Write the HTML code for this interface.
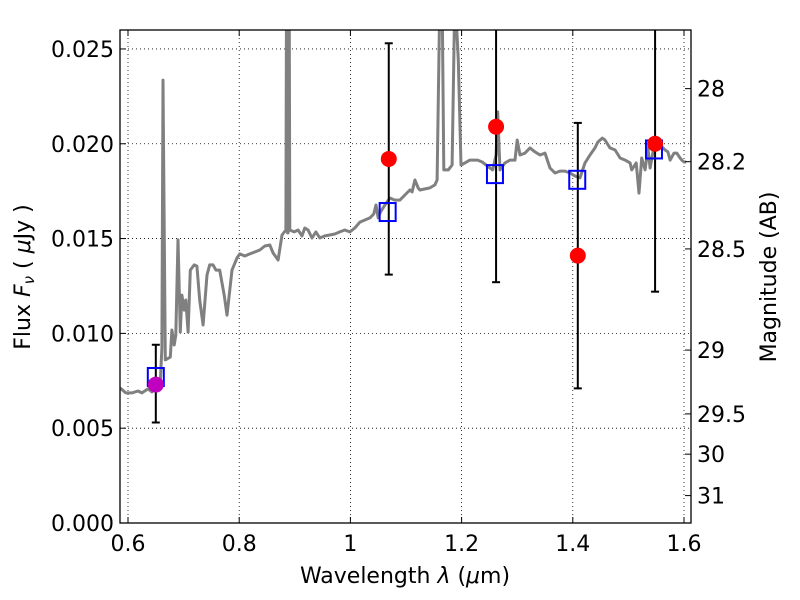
<!DOCTYPE html>
<html><head><meta charset="utf-8"><style>
html,body{margin:0;padding:0;background:#fff;}
svg{display:block;font-family:"DejaVu Sans","Liberation Sans",sans-serif;}
</style></head><body>
<svg id="chart" width="800" height="600" xmlns="http://www.w3.org/2000/svg">
<defs><clipPath id="clip"><rect x="120" y="30" width="571" height="493"/></clipPath></defs>
<rect x="0" y="0" width="800" height="600" fill="#fff"/>
<g id="grid"></g>
<g id="series" clip-path="url(#clip)"></g>
<rect x="120" y="30" width="571" height="493" fill="none" stroke="#000" stroke-width="1.3"/>
<g id="axes"></g>
<text x="405" y="583" font-size="22" text-anchor="middle">Wavelength  <tspan font-style="italic">λ</tspan> (<tspan font-style="italic">μ</tspan>m)</text>
<text transform="translate(30,277) rotate(-90)" font-size="22" text-anchor="middle">Flux  <tspan font-style="italic">F</tspan><tspan font-style="italic" font-size="15" dy="4">ν</tspan><tspan dy="-4">  ( </tspan><tspan font-style="italic">μ</tspan>Jy )</text>
<text transform="translate(776,277) rotate(-90)" font-size="22" text-anchor="middle">Magnitude (AB)</text>
</svg>
<script>
const xTicks=[0.6,0.8,1.0,1.2,1.4,1.6];
const xTickLabels=["0.6","0.8","1","1.2","1.4","1.6"];
const yTicks=[0,0.005,0.010,0.015,0.020,0.025];
const yTickLabels=["0.000","0.005","0.010","0.015","0.020","0.025"];
const magTicks=[28,28.2,28.5,29,29.5,30,31];
const magTickLabels=["28","28.2","28.5","29","29.5","30","31"];
const specWave=[0.586,0.596,0.607,0.618,0.625,0.636,0.643,0.650,0.658,0.661,0.663,0.667,0.676,0.679,0.683,0.686,0.690,0.694,0.697,0.701,0.704,0.708,0.712,0.719,0.724,0.729,0.735,0.742,0.747,0.753,0.758,0.765,0.773,0.778,0.787,0.796,0.801,0.810,0.819,0.828,0.837,0.846,0.855,0.861,0.870,0.877,0.884,0.885,0.887,0.888,0.890,0.891,0.899,0.906,0.913,0.918,0.924,0.931,0.938,0.945,0.954,0.963,0.972,0.981,0.990,0.999,1.008,1.017,1.026,1.035,1.042,1.046,1.050,1.053,1.062,1.071,1.080,1.089,1.098,1.107,1.111,1.116,1.122,1.125,1.143,1.152,1.156,1.161,1.165,1.168,1.176,1.183,1.188,1.194,1.199,1.206,1.215,1.229,1.237,1.251,1.256,1.262,1.265,1.269,1.278,1.287,1.296,1.300,1.305,1.314,1.323,1.332,1.341,1.350,1.359,1.368,1.377,1.386,1.395,1.404,1.413,1.422,1.431,1.440,1.445,1.453,1.458,1.467,1.476,1.485,1.494,1.503,1.506,1.514,1.519,1.524,1.530,1.535,1.539,1.548,1.557,1.566,1.571,1.575,1.582,1.587,1.593,1.596,1.600,1.604];
const specFlux=[0.00712,0.00686,0.00686,0.00696,0.00686,0.00707,0.00691,0.00728,0.00744,0.00923,0.02336,0.0086,0.00875,0.01018,0.00939,0.00991,0.01493,0.01007,0.01202,0.01123,0.01176,0.01007,0.01334,0.01361,0.01355,0.01176,0.01044,0.01308,0.01361,0.01361,0.01334,0.01334,0.01202,0.01096,0.01334,0.01398,0.01419,0.01408,0.01419,0.01429,0.0144,0.01461,0.01466,0.01424,0.01387,0.01519,0.01545,0.028,0.01530,0.01530,0.028,0.01545,0.01535,0.01545,0.01514,0.01556,0.01545,0.01503,0.01535,0.01503,0.01514,0.01519,0.01524,0.01535,0.01545,0.01535,0.01556,0.01587,0.01598,0.01609,0.0163,0.01677,0.01609,0.01635,0.01677,0.01714,0.01703,0.01703,0.0173,0.01756,0.01746,0.01809,0.01767,0.01756,0.01767,0.01783,0.01809,0.028,0.028,0.01862,0.01862,0.01888,0.028,0.02442,0.01888,0.01899,0.01914,0.01914,0.01904,0.01872,0.01862,0.01941,0.02168,0.01862,0.01899,0.01914,0.01914,0.0202,0.01941,0.01951,0.01978,0.01957,0.01941,0.01951,0.01872,0.01846,0.01856,0.01856,0.01846,0.01830,0.01820,0.01899,0.01941,0.01978,0.02009,0.0203,0.0202,0.01978,0.01967,0.01925,0.01914,0.01899,0.01862,0.01899,0.01740,0.01925,0.01862,0.01978,0.01872,0.0202,0.01994,0.01967,0.01957,0.01914,0.01951,0.01951,0.01925,0.01914,0.01904,0.01904,0.028];
const photWave=[0.650,1.069,1.262,1.409,1.548];
const photFlux=[0.0073,0.0192,0.0209,0.0141,0.0200];
const photErrLo=[0.0053,0.0131,0.0127,0.0071,0.0122];
const photErrHi=[0.0094,0.0253,0.029,0.0211,0.029];
const modelWave=[0.650,1.067,1.260,1.408,1.546];
const modelFlux=[0.0077,0.0164,0.0184,0.0181,0.0197];

const NS="http://www.w3.org/2000/svg";
const X0=120,X1=691,Y0=523,Y1=30,XMIN=0.5856,XMAX=1.6126,YMIN=0,YMAX=0.026;
function sx(v){return X0+(v-XMIN)/(XMAX-XMIN)*(X1-X0);}
function sy(v){return Y0-(v-YMIN)/(YMAX-YMIN)*(Y0-Y1);}
function magToFlux(m){return Math.pow(10,(23.9-m)/2.5);}
function mk(tag,attrs,parent){const e=document.createElementNS(NS,tag);for(const k in attrs)e.setAttribute(k,attrs[k]);parent.appendChild(e);return e;}
const grid=document.getElementById('grid'),axes=document.getElementById('axes'),series=document.getElementById('series');

xTicks.forEach((t,i)=>{const x=sx(t);
 const g=mk('line',{x1:x,x2:x,y1:Y1,y2:Y0,stroke:'#000','stroke-width':0.8,'stroke-dasharray':'1,3'},grid);
 
 
 mk('line',{x1:x,x2:x,y1:Y0,y2:Y0-6,stroke:'#000'},axes);
 mk('line',{x1:x,x2:x,y1:Y1,y2:Y1+6,stroke:'#000'},axes);
 const tx=mk('text',{x:x,y:Y0+28,'font-size':22,'text-anchor':'middle'},axes);tx.textContent=xTickLabels[i];
 
 
});
yTicks.forEach((t,i)=>{const y=sy(t);
 const g=mk('line',{x1:X0,x2:X1,y1:y,y2:y,stroke:'#000','stroke-width':0.8,'stroke-dasharray':'1,3'},grid);
 
 
 mk('line',{x1:X0,x2:X0+6,y1:y,y2:y,stroke:'#000'},axes);
 const tx=mk('text',{x:X0-6,y:y+8,'font-size':22,'text-anchor':'end'},axes);tx.textContent=yTickLabels[i];
 
 
});
magTicks.forEach((m,i)=>{const y=sy(magToFlux(m));
 mk('line',{x1:X1,x2:X1-6,y1:y,y2:y,stroke:'#000'},axes);
 const tx=mk('text',{x:X1+6,y:y+8,'font-size':22,'text-anchor':'start'},axes);tx.textContent=magTickLabels[i];
 
 
});
let d='';specWave.forEach((w,i)=>{d+=(i?'L':'M')+sx(w).toFixed(1)+','+sy(specFlux[i]).toFixed(1);});
const sp=mk('path',{d:d,fill:'none',stroke:'#808080','stroke-width':3,'stroke-linejoin':'round'},series);


photWave.forEach((w,i)=>{const x=sx(w);
 const e=mk('g',{},series);
 
 
 mk('line',{x1:x,x2:x,y1:sy(photErrLo[i]),y2:sy(photErrHi[i]),stroke:'#000','stroke-width':2},e);
 mk('line',{x1:x-4,x2:x+4,y1:sy(photErrLo[i]),y2:sy(photErrLo[i]),stroke:'#000','stroke-width':2},e);
 mk('line',{x1:x-4,x2:x+4,y1:sy(photErrHi[i]),y2:sy(photErrHi[i]),stroke:'#000','stroke-width':2},e);
});
modelWave.forEach((w,i)=>{
 const r=mk('rect',{x:sx(w)-8,y:sy(modelFlux[i])-9,width:16,height:18,fill:'none',stroke:'#0000ff','stroke-width':2},series);
 
 
});
photWave.forEach((w,i)=>{
 const c=mk('circle',{cx:sx(w),cy:sy(photFlux[i]),r:8,fill:i===0?'#bf00bf':'#ff0000'},series);
 
 
});
</script>
</body></html>
